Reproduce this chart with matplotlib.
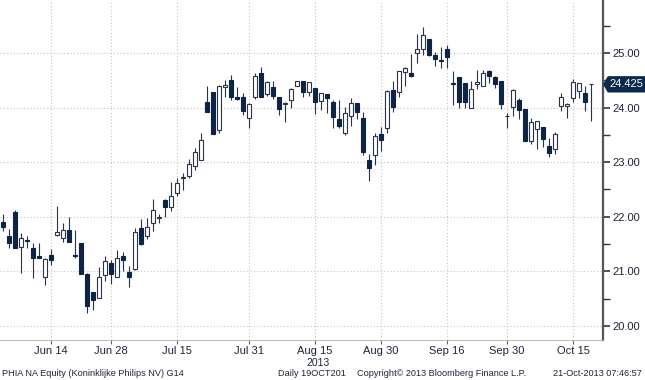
import matplotlib
matplotlib.use("Agg")
import matplotlib.pyplot as plt
from matplotlib.patches import Polygon
from matplotlib.transforms import blended_transform_factory
from matplotlib.ticker import MultipleLocator
import numpy as np
import pandas as pd

# ---- data (PHIA NA, daily, 2013-06-04 .. 2013-10-18) ----
dates = pd.bdate_range("2013-06-04", "2013-10-18")
opens = [21.90, 21.65, 22.09, 21.44, 21.57, 21.42, 21.28, 20.90, 21.29, 21.66,
         21.61, 21.75, 21.30, 21.51, 20.95, 20.62, 20.51, 20.93, 21.15, 20.90,
         21.28, 20.99, 21.05, 21.79, 21.64, 21.88, 21.98, 22.30, 22.18, 22.44,
         22.71, 22.75, 22.92, 23.04, 24.11, 24.28, 23.59, 24.38, 24.51, 24.19,
         24.19, 23.80, 24.19, 24.64, 24.25, 24.37, 24.19, 24.07, 24.13, 24.40,
         24.48, 24.29, 24.35, 24.12, 24.25, 24.11, 23.79, 23.54, 23.84, 24.09,
         23.80, 23.04, 23.13, 23.52, 23.62, 24.32, 24.29, 24.65, 24.64, 24.99,
         25.07, 25.25, 24.96, 24.87, 25.07, 24.44, 24.55, 24.45, 23.99, 24.43,
         24.40, 24.66, 24.56, 24.48, 23.85, 24.01, 24.14, 23.98, 23.38, 23.61,
         23.65, 23.30, 23.24, 24.02, 24.02, 24.17, 24.31, 24.27, 24.425]
highs = [22.05, 21.77, 22.12, 21.70, 21.64, 21.51, 21.51, 21.24, 21.40, 22.19,
         21.88, 22.00, 21.75, 21.51, 20.97, 20.62, 21.07, 21.28, 21.21, 21.39,
         21.36, 21.09, 21.79, 21.96, 21.98, 22.32, 22.04, 22.32, 22.63, 22.71,
         22.80, 23.05, 23.26, 23.54, 24.40, 24.28, 24.41, 24.51, 24.60, 24.38,
         24.26, 24.08, 24.63, 24.75, 24.48, 24.48, 24.19, 24.11, 24.35, 24.49,
         24.49, 24.46, 24.35, 24.26, 24.25, 24.14, 24.14, 24.01, 24.17, 24.09,
         23.91, 23.15, 23.53, 23.64, 24.32, 24.49, 24.67, 24.75, 24.98, 25.35,
         25.48, 25.25, 25.02, 25.10, 25.15, 24.66, 24.55, 24.45, 24.48, 24.69,
         24.68, 24.68, 24.58, 24.48, 23.90, 24.34, 24.17, 23.98, 23.80, 23.76,
         23.65, 23.44, 23.56, 24.26, 24.09, 24.52, 24.44, 24.40, 24.425]
lows = [21.73, 21.42, 21.42, 20.96, 21.42, 20.87, 21.24, 20.75, 21.12, 21.64,
        21.54, 21.54, 21.24, 20.95, 20.23, 20.29, 20.51, 20.83, 20.77, 20.89,
        21.01, 20.71, 21.03, 21.48, 21.59, 21.73, 21.88, 22.00, 22.10, 22.37,
        22.48, 22.71, 22.86, 23.04, 23.91, 23.51, 23.54, 24.20, 24.13, 24.13,
        23.87, 23.62, 24.15, 24.19, 24.21, 24.15, 23.87, 23.74, 23.99, 24.40,
        24.20, 24.21, 23.88, 23.96, 23.90, 23.62, 23.62, 23.50, 23.66, 23.79,
        23.13, 22.65, 22.95, 23.21, 23.53, 23.91, 24.19, 24.40, 24.56, 24.81,
        24.96, 24.95, 24.76, 24.72, 24.72, 24.05, 23.99, 23.99, 23.99, 24.34,
        24.40, 24.45, 24.35, 23.97, 23.62, 23.85, 23.79, 23.38, 23.34, 23.24,
        23.27, 23.10, 23.15, 23.93, 23.80, 24.11, 24.18, 23.94, 23.76]
closes = [21.81, 21.51, 21.42, 21.61, 21.56, 21.24, 21.24, 21.22, 21.20, 21.71,
          21.76, 21.54, 21.28, 20.95, 20.36, 20.48, 20.90, 21.19, 20.95, 21.24,
          21.20, 20.89, 21.72, 21.49, 21.81, 22.12, 22.00, 22.18, 22.38, 22.61,
          22.73, 22.97, 23.18, 23.41, 23.91, 23.51, 24.40, 24.41, 24.20, 24.15,
          23.93, 24.07, 24.58, 24.19, 24.46, 24.21, 23.97, 24.08, 24.34, 24.48,
          24.29, 24.46, 24.11, 24.26, 24.18, 23.82, 23.66, 23.90, 24.09, 23.91,
          23.18, 22.89, 23.48, 23.40, 24.30, 24.01, 24.66, 24.73, 24.58, 25.07,
          25.33, 24.96, 24.88, 24.86, 24.92, 24.43, 24.10, 24.10, 24.34, 24.47,
          24.63, 24.57, 24.43, 24.07, 23.84, 24.32, 23.96, 23.38, 23.74, 23.76,
          23.43, 23.16, 23.52, 24.20, 24.07, 24.46, 24.44, 24.11, 24.425]
tick_dates = ["2013-06-14", "2013-06-28", "2013-07-15", "2013-07-31", "2013-08-15",
              "2013-08-30", "2013-09-16", "2013-09-30", "2013-10-15"]
tick_labels = ["Jun 14", "Jun 28", "Jul 15", "Jul 31", "Aug 15",
               "Aug 30", "Sep 16", "Sep 30", "Oct 15"]
y_ticks = [20.0, 21.0, 22.0, 23.0, 24.0, 25.0]
last_price = 24.425
footer_texts = ["PHIA NA Equity (Koninklijke Philips NV) G14", "Daily 19OCT201",
                "Copyright\u00a9 2013 Bloomberg Finance L.P.", "21-Oct-2013 07:46:57"]

# ---- style ----
NAVY = "#0e2444"
WICK = "#2b3445"
TXT = "#1c2438"
FONT = ["Liberation Sans", "DejaVu Sans"]

fig = plt.figure(figsize=(6.45, 3.80), dpi=100)
fig.patch.set_facecolor("white")
ax = fig.add_axes([0.0, 1 - 340 / 380, 603 / 645, 340 / 380])
ax.set_facecolor("white")

x = np.arange(len(dates))
o = np.array(opens); h = np.array(highs); l = np.array(lows); c = np.array(closes)
up = c >= o

ax.vlines(x, l, h, color=WICK, linewidth=0.8, zorder=3)
body_bottom = np.minimum(o, c)
body_h = np.maximum(np.abs(c - o), 0.012)
ax.bar(x[up], body_h[up], bottom=body_bottom[up], width=0.68,
       facecolor="white", edgecolor=WICK, linewidth=0.8, zorder=4)
ax.bar(x[~up], body_h[~up], bottom=body_bottom[~up], width=0.68,
       facecolor=NAVY, edgecolor=NAVY, linewidth=0.8, zorder=4)

ax.set_xlim(-0.5, 100.0)
ax.set_ylim(19.74, 25.97)

date_index = {d.strftime("%Y-%m-%d"): i for i, d in enumerate(dates)}
xt = [date_index[d] for d in tick_dates]
ax.set_xticks(xt)
ax.set_xticklabels(tick_labels, fontsize=8, color=TXT, family=FONT)
ax.tick_params(axis="x", direction="out", length=3, width=0.8, color="#666666", pad=1.5)

ax.yaxis.tick_right()
ax.set_yticks(y_ticks)
ax.set_yticklabels([f"{v:.2f}" for v in y_ticks], fontsize=8, color=TXT, family=FONT)
ax.yaxis.set_minor_locator(MultipleLocator(0.5))
ax.tick_params(axis="y", which="major", direction="out", length=5, width=1.2,
               color="#333333", pad=2)
ax.tick_params(axis="y", which="minor", direction="out", length=5, width=1.0,
               color="#333333")

ax.grid(True, which="major", linestyle=(0, (1, 2)), color="#c4c4c4", linewidth=0.8)
ax.set_axisbelow(True)

for s in ["left", "top"]:
    ax.spines[s].set_visible(False)
ax.spines["right"].set_color("#555555")
ax.spines["right"].set_linewidth(1.6)
ax.spines["bottom"].set_color("#b0b0b0")
ax.spines["bottom"].set_linewidth(0.6)

# last price tag
tr = blended_transform_factory(ax.transAxes, ax.transData)
hh = 0.15
poly = Polygon([(1.0, last_price), (1.008, last_price + hh), (1.075, last_price + hh),
                (1.075, last_price - hh), (1.008, last_price - hh)],
               closed=True, transform=tr, facecolor="#0b2a4a", edgecolor="none",
               clip_on=False, zorder=10)
ax.add_patch(poly)
ax.text(1.039, last_price, f"{last_price:.3f}", transform=tr, ha="center", va="center",
        color="white", fontsize=8, family=FONT, zorder=11, clip_on=False)

# year label
fig.text(318 / 645, 1 - 363 / 380, "2013", ha="center", va="center",
         fontsize=7.5, color=TXT, family=FONT)

# footer (uniform size)
FS = 6.6
fy = 1 - 373 / 380
fig.text(2 / 645, fy, footer_texts[0], ha="left", va="center", fontsize=FS,
         color=TXT, family=FONT)
fig.text(278 / 645, fy, footer_texts[1], ha="left", va="center", fontsize=FS,
         color=TXT, family=FONT)
fig.text(357 / 645, fy, footer_texts[2], ha="left", va="center", fontsize=FS,
         color=TXT, family=FONT)
fig.text(642 / 645, fy, footer_texts[3], ha="right", va="center", fontsize=FS,
         color=TXT, family=FONT)

fig.savefig("out.png", dpi=100, facecolor="white")
